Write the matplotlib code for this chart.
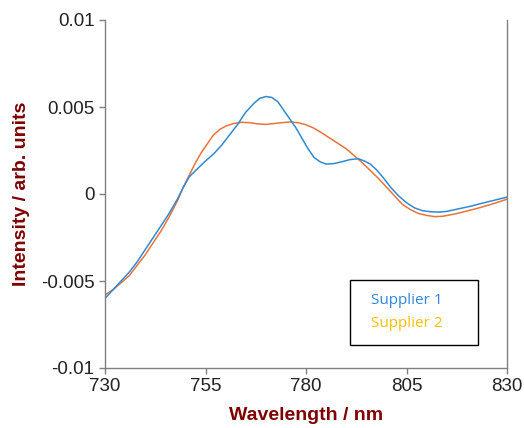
import matplotlib
matplotlib.use('Agg')
import matplotlib.pyplot as plt
from matplotlib.patches import Rectangle

# Supplier 1
wl_s1 = [730, 732, 734, 736, 738, 740, 742, 744, 746, 748, 749.5, 751, 753, 755, 757,
         759, 761, 763, 765, 767, 768.5, 770, 771.5, 773, 774.5, 776, 777.5, 779,
         780.5, 782, 783.5, 785, 787, 789, 791, 793, 794.5, 796, 797.5, 799, 801,
         803, 805, 807, 809, 811, 813, 815, 818, 821, 824, 827, 830]
int_s1 = [-0.0060, -0.0055, -0.0050, -0.0045, -0.0039, -0.0032, -0.0025, -0.0018,
          -0.0011, -0.0003, 0.0004, 0.0010, 0.00145, 0.0019, 0.0023, 0.0028, 0.0034,
          0.0040, 0.0047, 0.0052, 0.0055, 0.0056, 0.00555, 0.0053, 0.0048, 0.0043,
          0.0038, 0.0032, 0.0026, 0.0021, 0.00185, 0.00172, 0.00175, 0.00186,
          0.00198, 0.00203, 0.0019, 0.00172, 0.0014, 0.0010, 0.0004, -0.0001,
          -0.0005, -0.0008, -0.00096, -0.00102, -0.00104, -0.00100, -0.00085,
          -0.0007, -0.00052, -0.00035, -0.00018]

# Supplier 2
wl_s2 = [730, 732, 734, 736, 738, 740, 742, 744, 746, 748, 749.5, 751, 752.5, 754,
         755.5, 757, 758.5, 760, 762, 764, 766, 768, 770, 772, 774, 776, 778, 780,
         782, 784, 786, 788, 790, 792, 794, 796, 798, 800, 802, 804, 806, 808, 810,
         812, 814, 817, 820, 823, 826, 830]
int_s2 = [-0.0058, -0.0055, -0.0051, -0.0047, -0.0041, -0.0035, -0.0028, -0.0021,
          -0.0013, -0.0004, 0.0004, 0.0011, 0.0018, 0.0024, 0.0029, 0.0034, 0.0037,
          0.0039, 0.00405, 0.00412, 0.0041, 0.00403, 0.0040, 0.00405, 0.0041,
          0.00414, 0.0041, 0.00398, 0.00378, 0.0035, 0.0032, 0.0029, 0.0026, 0.0022,
          0.0018, 0.00135, 0.0009, 0.0004, -0.0001, -0.0006, -0.0009, -0.00112,
          -0.00123, -0.0013, -0.00128, -0.00115, -0.00098, -0.0008, -0.0006, -0.0003]

x_ticks = [730, 755, 780, 805, 830]
y_ticks = [-0.01, -0.005, 0, 0.005, 0.01]
y_labels = ['-0.01', '-0.005', '0', '0.005', '0.01']

plt.rcParams['font.family'] = ['Liberation Sans', 'DejaVu Sans']

fig = plt.figure(figsize=(5.24, 4.28), dpi=100)
ax = fig.add_axes([105 / 524, 1 - 368 / 428, 402 / 524, 348 / 428])

ax.plot(wl_s2, int_s2, color='#E8743B', lw=1.1)
ax.plot(wl_s1, int_s1, color='#2F8AD0', lw=1.1)

ax.set_xlim(730, 830)
ax.set_ylim(-0.01, 0.01)
ax.set_xticks(x_ticks)
ax.set_yticks(y_ticks)
ax.set_yticklabels(y_labels)
ax.tick_params(labelsize=13.5, colors='#808080', labelcolor='#222222',
               length=4, width=1, direction='out')

for s in ['left', 'bottom', 'right']:
    ax.spines[s].set_color('#808080')
    ax.spines[s].set_linewidth(1)
ax.spines['top'].set_visible(False)

lbl = dict(fontsize=14, fontweight='bold', color='#7F0000')
ax.set_xlabel('Wavelength / nm', labelpad=8, **lbl)
ax.set_ylabel('Intensity / arb. units', labelpad=8, **lbl)

# legend box with coloured text only
ax.add_patch(Rectangle((0.609, 0.066), 0.319, 0.187, transform=ax.transAxes,
                       fill=True, facecolor='white', edgecolor='black', lw=1, zorder=5))
ax.text(0.662, 0.195, 'Supplier 1', transform=ax.transAxes, color='#2E86DE',
        fontsize=11, family='Open Sans', va='center', zorder=6)
ax.text(0.662, 0.129, 'Supplier 2', transform=ax.transAxes, color='#FFC000',
        fontsize=11, family='Open Sans', va='center', zorder=6)

fig.savefig('out.png', dpi=100)
